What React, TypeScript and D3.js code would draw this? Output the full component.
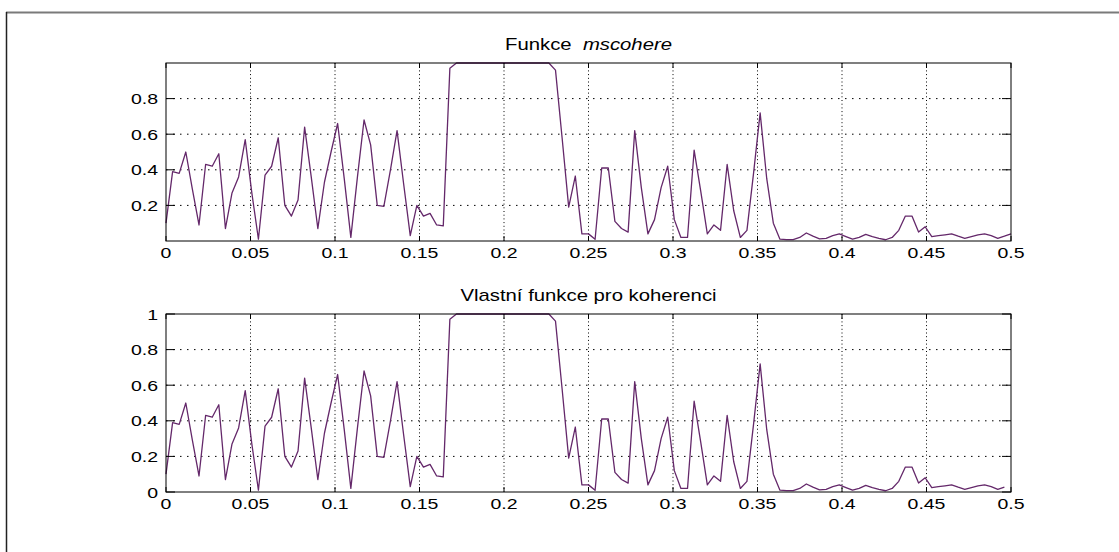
import React from "react";
import * as d3 from "d3";

// Frequency ticks (normalized frequency)
const xTicks = [0, 0.05, 0.1, 0.15, 0.2, 0.25, 0.3, 0.35, 0.4, 0.45, 0.5];
const xTickLabels = ["0", "0.05", "0.1", "0.15", "0.2", "0.25", "0.3", "0.35", "0.4", "0.45", "0.5"];
const topYTicks = [0.2, 0.4, 0.6, 0.8];
const topYTickLabels = ["0.2", "0.4", "0.6", "0.8"];
const bottomYTicks = [0, 0.2, 0.4, 0.6, 0.8, 1];
const bottomYTickLabels = ["0", "0.2", "0.4", "0.6", "0.8", "1"];

const topTitle = "Funkce";
const topTitleItalic = "mscohere";
const bottomTitle = "Vlastní funkce pro koherenci";

const nfft = 256;

// Coherence values, bin k => frequency k/256
const mscohereValues = [
  0.10, 0.39, 0.38, 0.50, 0.29, 0.09, 0.43, 0.42, 0.49, 0.07,
  0.27, 0.36, 0.57, 0.27, 0.01, 0.37, 0.42, 0.58, 0.20, 0.14,
  0.23, 0.64, 0.36, 0.07, 0.33, 0.50, 0.66, 0.35, 0.02, 0.36,
  0.68, 0.54, 0.20, 0.195, 0.40, 0.62, 0.32, 0.03, 0.20, 0.14,
  0.155, 0.09, 0.085, 0.97, 1.0, 1.0, 1.0, 1.0, 1.0, 1.0,
  1.0, 1.0, 1.0, 1.0, 1.0, 1.0, 1.0, 1.0, 1.0, 0.96,
  0.58, 0.19, 0.365, 0.04, 0.04, 0.01, 0.41, 0.41, 0.11, 0.07,
  0.05, 0.62, 0.30, 0.04, 0.12, 0.30, 0.42, 0.12, 0.02, 0.02,
  0.51, 0.28, 0.04, 0.09, 0.06, 0.43, 0.17, 0.02, 0.06, 0.38,
  0.72, 0.35, 0.10, 0.01, 0.008, 0.008, 0.02, 0.045, 0.027, 0.012,
  0.015, 0.03, 0.04, 0.025, 0.01, 0.02, 0.037, 0.025, 0.015, 0.007,
  0.02, 0.06, 0.14, 0.14, 0.05, 0.08, 0.025, 0.03, 0.035, 0.04,
  0.027, 0.015, 0.025, 0.035, 0.04, 0.03, 0.015, 0.027, 0.04,
];

// Own coherence function: same values, one bin shorter
const ownValues = mscohereValues.slice(0, 128);

const W = 1119;
const H = 552;
const LEFT = 166;
const RIGHT = 1011;
const FONT = "'Liberation Sans', Arial, Helvetica, sans-serif";
const LINE_COLOR = "#64286a";
const SX = 1.3;

function SText({ x, y, anchor, size, children, sx = SX }: any) {
  return (
    <g transform={`translate(${x},${y}) scale(${sx},1)`}>
      <text
        x={0}
        y={0}
        textAnchor={anchor}
        fontFamily={FONT}
        fontSize={size}
        fill="#000"
      >
        {children}
      </text>
    </g>
  );
}

function Panel({ top, bottom, values, yTicks, yLabels, title }: any) {
  const x = d3.scaleLinear().domain([0, 0.5]).range([LEFT, RIGHT]);
  const y = d3.scaleLinear().domain([0, 1]).range([bottom, top]);
  const pts = values.map((v: number, i: number) => [i / nfft, v] as [number, number]);
  const line = d3
    .line<[number, number]>()
    .x((d) => x(d[0]))
    .y((d) => y(d[1]));
  const innerX = xTicks.filter((t) => t > 0 && t < 0.5);
  const innerY = yTicks.filter((t: number) => t > 0 && t < 1);
  return (
    <g>
      {/* grid */}
      {innerX.map((t) => (
        <line
          key={"gx" + t}
          x1={x(t)}
          x2={x(t)}
          y1={top}
          y2={bottom}
          stroke="#000"
          strokeWidth={1}
          strokeDasharray="1 2.7"
        />
      ))}
      {innerY.map((t: number) => (
        <line
          key={"gy" + t}
          x1={LEFT}
          x2={RIGHT}
          y1={y(t)}
          y2={y(t)}
          stroke="#000"
          strokeWidth={1}
          strokeDasharray="1.5 5.5"
        />
      ))}
      {/* data */}
      <path d={line(pts) || ""} fill="none" stroke={LINE_COLOR} strokeWidth={1.3} strokeLinejoin="round" />
      {/* box */}
      <rect x={LEFT} y={top} width={RIGHT - LEFT} height={bottom - top} fill="none" stroke="#000" strokeWidth={1} />
      {/* ticks */}
      {xTicks.map((t) => (
        <g key={"tx" + t}>
          <line x1={x(t)} x2={x(t)} y1={bottom} y2={bottom - 5} stroke="#000" />
          <line x1={x(t)} x2={x(t)} y1={top} y2={top + 5} stroke="#000" />
        </g>
      ))}
      {yTicks.map((t: number) => (
        <g key={"ty" + t}>
          <line x1={LEFT} x2={LEFT + 9} y1={y(t)} y2={y(t)} stroke="#000" />
          <line x1={RIGHT} x2={RIGHT - 9} y1={y(t)} y2={y(t)} stroke="#000" />
        </g>
      ))}
      {/* tick labels */}
      {xTicks.map((t, i) => (
        <SText key={"lx" + t} x={x(t)} y={bottom + 17} anchor="middle" size={15}>
          {xTickLabels[i]}
        </SText>
      ))}
      {yTicks.map((t: number, i: number) => (
        <SText key={"ly" + t} x={LEFT - 8} y={y(t) + 5.5} anchor="end" size={15}>
          {yLabels[i]}
        </SText>
      ))}
      {title}
    </g>
  );
}

export default function App() {
  const cx = (LEFT + RIGHT) / 2;
  return (
    <svg
      width={W}
      height={H}
      style={{ position: "absolute", left: 0, top: 0, background: "#fff" }}
    >
      <rect x={0} y={0} width={W} height={H} fill="#fff" />
      <line x1={6} x2={W} y1={12.5} y2={12.5} stroke="#7a7a7a" strokeWidth={2} />
      <line x1={6.5} x2={6.5} y1={12} y2={H} stroke="#222" strokeWidth={1.5} />
      <Panel
        top={63}
        bottom={241}
        values={mscohereValues}
        yTicks={topYTicks}
        yLabels={topYTickLabels}
        title={
          <g transform={`translate(${cx},50) scale(1.27,1)`}>
            <text x={0} y={0} textAnchor="middle" fontFamily={FONT} fontSize={16} fill="#000">
              {topTitle}
              <tspan>{"\u00a0\u00a0"}</tspan>
              <tspan fontStyle="italic">{topTitleItalic}</tspan>
            </text>
          </g>
        }
      />
      <Panel
        top={314}
        bottom={492}
        values={ownValues}
        yTicks={bottomYTicks}
        yLabels={bottomYTickLabels}
        title={
          <SText x={cx} y={301} anchor="middle" size={16} sx={1.27}>
            {bottomTitle}
          </SText>
        }
      />
    </svg>
  );
}
